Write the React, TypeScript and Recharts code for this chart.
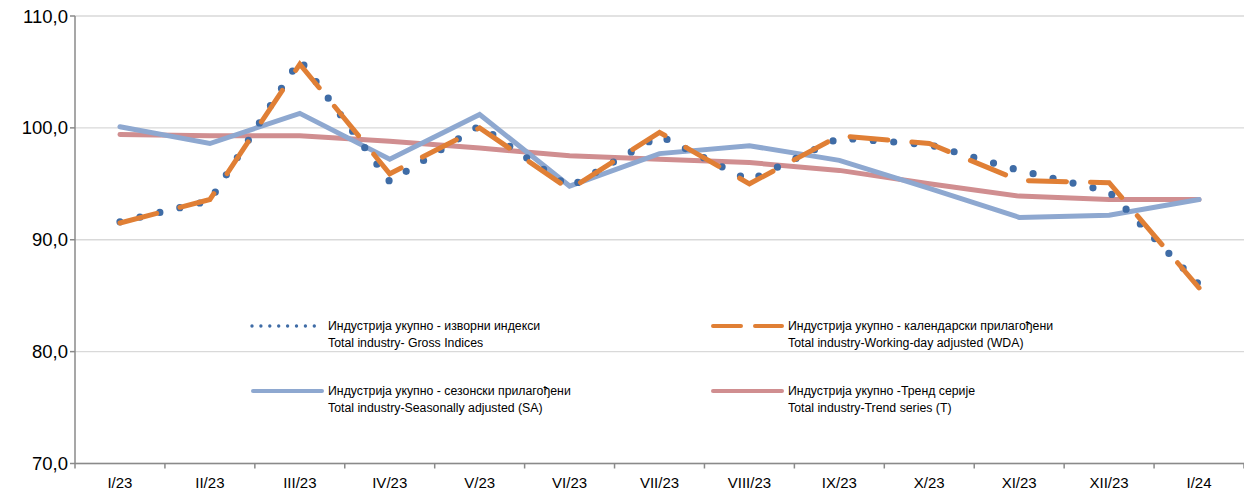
import React from 'react';
import { LineChart, Line, XAxis, YAxis, CartesianGrid, Legend } from 'recharts';

const months = ['I/23', 'II/23', 'III/23', 'IV/23', 'V/23', 'VI/23', 'VII/23', 'VIII/23', 'IX/23', 'X/23', 'XI/23', 'XII/23', 'I/24'];
const gross = [91.6, 93.5, 106.1, 95.2, 100.2, 94.7, 99.3, 95.3, 99.1, 98.5, 96.2, 94.3, 86.0];
const wda = [91.5, 93.6, 105.7, 95.9, 100.0, 94.5, 99.6, 95.0, 99.3, 98.6, 95.3, 95.1, 85.7];
const sa = [100.1, 98.6, 101.3, 97.2, 101.2, 94.8, 97.7, 98.4, 97.1, 94.6, 92.0, 92.2, 93.6];
const trend = [99.4, 99.3, 99.3, 98.8, 98.2, 97.5, 97.2, 96.9, 96.2, 95.0, 93.9, 93.6, 93.6];
const yTicks = [70, 80, 90, 100, 110];

const legendRu = [
  'Индустрија укупно - изворни индекси',
  'Индустрија укупно - календарски прилагођени',
  'Индустрија укупно - сезонски прилагођени',
  'Индустрија укупно -Тренд серије',
];
const legendEn = [
  'Total industry- Gross Indices',
  'Total industry-Working-day adjusted (WDA)',
  'Total industry-Seasonally adjusted (SA)',
  'Total industry-Trend series (T)',
];

const C_GROSS = '#3F6CA6';
const C_WDA = '#E07F35';
const C_SA = '#8EA8D0';
const C_TREND = '#D08E90';
const AXIS = '#8A8A8A';
const FONT = '"Liberation Sans", Arial, sans-serif';

const data = months.map((m, i) => ({ month: m, gross: gross[i], wda: wda[i], sa: sa[i], trend: trend[i] }));

const W = 1244;
const H = 492;
const X_TICK_SIZE = 5;
const X_TICK_MARGIN = 9;

const XTick = (props: any) => {
  const { x, y, payload, index, visibleTicksCount } = props;
  const half = payload && typeof payload.offset === 'number' ? payload.offset : 0;
  const axisY = y - X_TICK_SIZE - X_TICK_MARGIN;
  return (
    <g>
      <line x1={x - half} x2={x - half} y1={axisY} y2={axisY + X_TICK_SIZE} stroke={AXIS} strokeWidth={1.5} />
      {index === visibleTicksCount - 1 && (
        <line x1={x + half} x2={x + half} y1={axisY} y2={axisY + X_TICK_SIZE} stroke={AXIS} strokeWidth={1.5} />
      )}
      <text x={x} y={y} dy="0.71em" textAnchor="middle" fill="#000" fontSize={15} fontFamily={FONT}>
        {payload.value}
      </text>
    </g>
  );
};

const renderLegend = () => {
  const cols = [252, 712];
  const rows = [326, 391];
  const items = [
    { c: 0, r: 0, color: C_GROSS, kind: 'dot' },
    { c: 1, r: 0, color: C_WDA, kind: 'dash' },
    { c: 0, r: 1, color: C_SA, kind: 'solid' },
    { c: 1, r: 1, color: C_TREND, kind: 'solid' },
  ];
  return (
    <svg width={W} height={H} style={{ position: 'absolute', left: 0, top: 0 }}>
      {items.map((it, i) => {
        const x = cols[it.c];
        const y = rows[it.r];
        let line;
        if (it.kind === 'dot') {
          line = <line x1={x} x2={x + 71} y1={y} y2={y} stroke={it.color} strokeWidth={3.4} strokeLinecap="round" strokeDasharray="0 8.9" />;
        } else if (it.kind === 'dash') {
          line = <line x1={x + 1} x2={x + 70} y1={y} y2={y} stroke={it.color} strokeWidth={4} strokeLinecap="round" strokeDasharray="28 14" />;
        } else {
          line = <line x1={x + 1} x2={x + 70} y1={y} y2={y} stroke={it.color} strokeWidth={4} strokeLinecap="round" />;
        }
        return (
          <g key={i}>
            {line}
            <text x={x + 76} y={y + 4} fontSize={12.3} fontFamily={FONT} fill="#000">{legendRu[i]}</text>
            <text x={x + 76} y={y + 21} fontSize={12.3} fontFamily={FONT} fill="#000">{legendEn[i]}</text>
          </g>
        );
      })}
    </svg>
  );
};

export default function App() {
  return (
    <div style={{ position: 'absolute', left: 0, top: 0, width: W, height: H, background: '#fff' }}>
      <LineChart width={W} height={H} data={data} margin={{ top: 16, right: 0, left: 0, bottom: 0 }}>
        <CartesianGrid horizontal vertical={false} stroke="#D9D9D9" strokeWidth={1.3} />
        <XAxis
          dataKey="month"
          scale="band"
          height={28.5}
          tickLine={false}
          tickSize={X_TICK_SIZE}
          tickMargin={X_TICK_MARGIN}
          axisLine={{ stroke: AXIS, strokeWidth: 1.5 }}
          tick={<XTick />}
          interval={0}
        />
        <YAxis
          width={75}
          domain={[70, 110]}
          ticks={yTicks}
          allowDataOverflow
          tickSize={5}
          tickMargin={2}
          tickLine={{ stroke: AXIS, strokeWidth: 1.5 }}
          axisLine={{ stroke: AXIS, strokeWidth: 1.5 }}
          tick={{ fill: '#000', fontSize: 18.5, fontFamily: FONT }}
          tickFormatter={(v: number) => v.toFixed(1).replace('.', ',')}
        />
        <Legend
          layout="horizontal"
          verticalAlign="middle"
          align="center"
          content={renderLegend}
          wrapperStyle={{ position: 'absolute', left: 0, top: 0, width: W, height: H, pointerEvents: 'none' }}
        />
        <Line type="linear" dataKey="trend" stroke={C_TREND} strokeWidth={5} dot={false} isAnimationActive={false} strokeLinecap="round" />
        <Line type="linear" dataKey="sa" stroke={C_SA} strokeWidth={5} dot={false} isAnimationActive={false} strokeLinecap="round" />
        <Line type="linear" dataKey="gross" stroke={C_GROSS} strokeWidth={7.2} strokeDasharray="0 20.5" strokeLinecap="round" dot={false} isAnimationActive={false} />
        <Line type="linear" dataKey="wda" stroke={C_WDA} strokeWidth={5} strokeDasharray="38 24" strokeLinecap="round" dot={false} isAnimationActive={false} />
      </LineChart>
    </div>
  );
}
